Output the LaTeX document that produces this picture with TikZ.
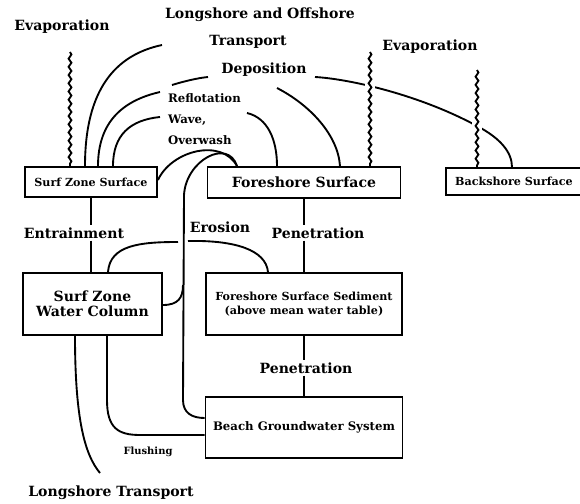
\documentclass[tikz,border=0pt]{standalone}
\usepackage{fontspec}
\setmainfont{DejaVu Serif}
\usetikzlibrary{decorations.pathmorphing}

\begin{document}
\begin{tikzpicture}[x=0.03cm,y=-0.03cm,line width=1.6pt,
    big/.style={font=\bfseries\fontsize{12}{13}\selectfont,inner sep=1pt},
    mid/.style={font=\bfseries\fontsize{10}{12}\selectfont,inner sep=1pt},
    sml/.style={font=\bfseries\fontsize{9.5}{11.5}\selectfont,inner sep=1pt},
    tny/.style={font=\bfseries\fontsize{8.5}{10}\selectfont,inner sep=1pt},
    box/.style={draw,rectangle,inner sep=0pt},
    wavy/.style={decorate,decoration={snake,amplitude=1.2pt,segment length=7pt}},
    gap/.style={draw=white,line width=8pt}]
    \useasboundingbox (0,0) rectangle (580,504);
    \clip (0,0) rectangle (580,504);
    % compartments
    \node[box,sml,minimum width=3.96cm,minimum height=0.9cm] (szs) at (91,182) {Surf Zone Surface};
    \node[box,big,minimum width=5.79cm,minimum height=0.93cm] (fss) at (304,182.5) {Foreshore Surface\hspace{0.45cm}};
    \node[box,sml,minimum width=4.08cm,minimum height=0.81cm] (bss) at (514,181.5) {Backshore Surface};
    \node[box,big,align=center,minimum width=4.17cm,minimum height=1.86cm] (szwc) at (92.5,304) {Surf Zone\\Water Column};
    \node[box,sml,align=center,minimum width=5.88cm,minimum height=1.86cm] (fsse) at (304,304) {Foreshore Surface Sediment\\(above mean water table)};
    \node[box,mid,minimum width=5.91cm,minimum height=1.83cm] (bgs) at (304,427.5) {Beach Groundwater System};
    % labels
    \node[big] (evL) at (62,27) {Evaporation};
    \node[big] (lot) at (260,15) {Longshore and Offshore};
    \node[big] (tra) at (248,42) {Transport};
    \node[big] (dep) at (264,70) {Deposition};
    \node[big] (evR) at (430,47) {Evaporation};
    \node[mid,anchor=west] (ref) at (166,98) {Reflotation};
    \node[mid,anchor=west] (wav) at (166,120) {Wave,};
    \node[mid,anchor=west] (ovw) at (166,140) {Overwash};
    \node[big] (entr) at (74,233) {Entrainment};
    \node[big] (ero) at (220,227) {Erosion};
    \node[big] (penA) at (318,233) {Penetration};
    \node[big] (penB) at (306,368) {Penetration};
    \node[tny] (flu) at (148,452) {Flushing};
    \node[big] (lt) at (111,493) {Longshore Transport};
    % free ends
    \coordinate (evLtop) at (70,52);
    \coordinate (evMtop) at (370,52);
    \coordinate (evRtop) at (477,70);
    % deposition and transport arcs
    \draw (szs.north -| 85,0) .. controls (85,90) and (115,55) .. (162,45);
    \draw (277,88) .. controls (310,105) and (338,135) .. (fss.north -| 340,0);
    \draw (szs.north -| 98,0) .. controls (98,120) and (125,100) .. (160,92);
    \draw (172,85) .. controls (185,81) and (198,78) .. (208,77);
    \draw (315,77) .. controls (350,79) and (420,95) .. (477,126) .. controls (500,138) and (512,152) .. (bss.north -| 512,0);
    \draw (szs.north -| 113,0) .. controls (113,135) and (130,120) .. (160,117);
    \draw (247,113) .. controls (268,118) and (277,140) .. (fss.north -| 277,0);
    % overwash
    \draw (szs.east |- 0,180) .. controls (172,150) and (222,138) .. (fss.north -| 237,0);
    \draw (fss.north -| 237,0) .. controls (228,138) and (186,160) .. (184,195) -- (183,400) .. controls (183,413) and (192,418) .. (bgs.west |- 0,418);
    \draw (szwc.east |- 0,305) .. controls (178,305) and (183,298) .. (183,285);
    % erosion
    \draw (szwc.north -| 108,0) .. controls (110,245) and (140,242) .. (178,242);
    \draw (188,241) .. controls (235,240) and (266,250) .. (fsse.north -| 268,0);
    % evaporation
    \draw[gap] (evMtop) ++(0,10) -- ++(0,55);
    \draw[gap] (evRtop) ++(0,30) -- ++(0,50);
    \draw[wavy] (evLtop) -- (evLtop |- szs.north);
    \draw[wavy] (evMtop) -- (evMtop |- fss.north);
    \draw[wavy] (evRtop) -- (evRtop |- bss.north);
    % vertical exchanges
    \draw (szs.south) -- (szs.south |- entr.north);
    \draw (szs.south |- entr.south) -- (szs.south |- szwc.north);
    \draw (fss.south) -- (fss.south |- penA.north);
    \draw (fss.south |- penA.south) -- (fss.south |- fsse.north);
    \draw (fsse.south) -- (fsse.south |- penB.north);
    \draw (fsse.south |- penB.south) -- (fsse.south |- bgs.north);
    % bottom
    \draw (szwc.south -| 75,0) .. controls (75,420) and (85,455) .. (100,473);
    \draw (szwc.south -| 107,0) -- (107,400) .. controls (107,428) and (118,435) .. (140,435) -- (bgs.west |- 0,435);
\end{tikzpicture}
\end{document}
